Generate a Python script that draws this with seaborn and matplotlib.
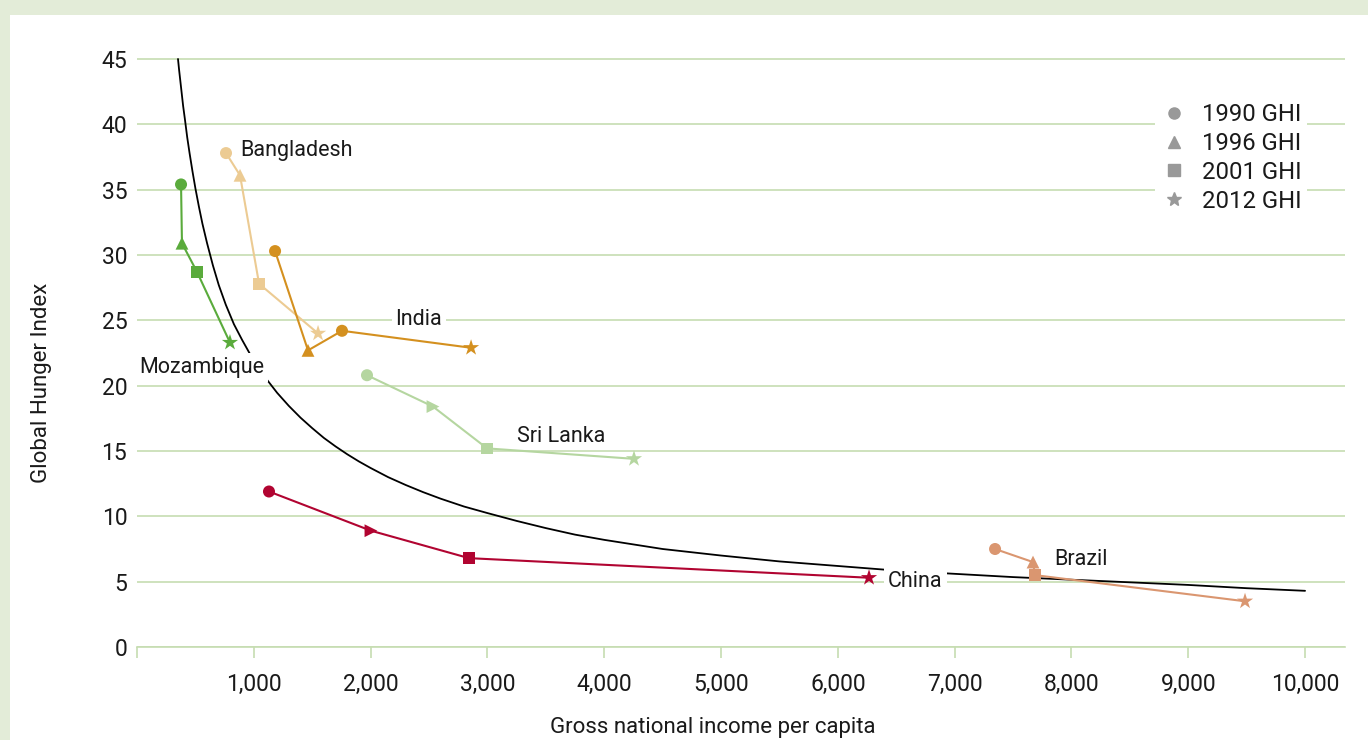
import pandas as pd
import numpy as np
import matplotlib
matplotlib.use("Agg")
import matplotlib.pyplot as plt
from matplotlib.lines import Line2D
from matplotlib.patches import Rectangle
import seaborn as sns

# GHI values (GNI per capita, GHI score) for 1990, 1996, 2001, 2012
years = [1990, 1996, 2001, 2012]
countries = ["Mozambique", "Bangladesh", "India", "Sri Lanka", "China", "Brazil"]
gni = {
    "Mozambique": [377, 385, 514, 796],
    "Bangladesh": [762, 882, 1045, 1550],
    "India": [1182, 1464, 1755, 2860],
    "Sri Lanka": [1969, 2534, 2997, 4255],
    "China": [1130, 2003, 2842, 6267],
    "Brazil": [7346, 7671, 7688, 9486],
}
ghi = {
    "Mozambique": [35.4, 30.9, 28.7, 23.3],
    "Bangladesh": [37.8, 36.1, 27.8, 24.0],
    "India": [30.3, 22.7, 24.2, 22.9],
    "Sri Lanka": [20.8, 18.4, 15.2, 14.4],
    "China": [11.9, 8.9, 6.8, 5.3],
    "Brazil": [7.5, 6.5, 5.5, 3.5],
}
colors = {
    "Mozambique": "#5aab3c",
    "Bangladesh": "#eccb93",
    "India": "#d4901f",
    "Sri Lanka": "#b5d6a0",
    "China": "#b10431",
    "Brazil": "#da9670",
}
# trend curve points
curve_x = [351, 360, 370, 380, 395, 410, 430, 450, 475, 500, 530, 560, 600, 650, 700,
           760, 830, 900, 1000, 1100, 1200, 1300, 1400, 1500, 1600, 1700, 1800, 1900,
           2000, 2150, 2300, 2450, 2600, 2800, 3000, 3250, 3500, 3750, 4000, 4500, 5000,
           5500, 6000, 6500, 7000, 7500, 8000, 8500, 9000, 9500, 10000]
curve_y = [45.0, 44.2, 43.4, 42.6, 41.4, 40.4, 39.0, 37.8, 36.4, 35.1, 33.7, 32.4, 30.9,
           29.2, 27.7, 26.2, 24.7, 23.5, 21.9, 20.6, 19.45, 18.45, 17.55, 16.75, 16.0, 15.35,
           14.75, 14.2, 13.7, 13.0, 12.4, 11.85, 11.35, 10.75, 10.25, 9.65, 9.1, 8.6, 8.2,
           7.5, 7.0, 6.55, 6.2, 5.85, 5.6, 5.35, 5.15, 4.95, 4.75, 4.5, 4.3]

xticks = list(range(0, 10001, 1000))
xtick_labels = [""] + [f"{v:,}" for v in xticks[1:]]
yticks = list(range(0, 46, 5))

rows = []
for c in countries:
    for yr, gx, gy in zip(years, gni[c], ghi[c]):
        rows.append({"country": c, "year": yr, "gni": gx, "ghi": gy})
df = pd.DataFrame(rows)

sns.set_theme(style="white")
plt.rcParams["font.family"] = ["Roboto", "DejaVu Sans"]

grid_col = "#c6ddb1"
text_col = "#1a1a1a"
fig = plt.figure(figsize=(13.68, 7.40), dpi=100, facecolor="#e3ecd8")
fig.add_artist(Rectangle((10 / 1368, 0), 1, 1 - 15 / 740, transform=fig.transFigure,
                         facecolor="white", edgecolor="none", zorder=-10))
ytop = 45.5
ppu = 588 / 45
ax_top_px = 647 - ytop * ppu
ax_h_px = 647 - ax_top_px
ax = fig.add_axes([137 / 1368, 1 - 647 / 740, (1345 - 137) / 1368, ax_h_px / 740])
ax.set_facecolor("none")

sns.lineplot(x=curve_x, y=curve_y, ax=ax, color="black", lw=1.3, zorder=3)

# marker per point (the chart reuses a circle for India's third point)
markers = {1990: "o", 1996: "^", 2001: "s", 2012: "*"}
marker_override = {("China", 1996): ">", ("Sri Lanka", 1996): ">", ("India", 2001): "o"}
sizes = {"o": 75, "^": 85, ">": 85, "s": 70, "*": 150}
for c in countries:
    d = df[df.country == c]
    sns.lineplot(data=d, x="gni", y="ghi", sort=False, ax=ax, color=colors[c], lw=1.5, zorder=4)
    for _, r in d.iterrows():
        m = marker_override.get((c, r.year), markers[r.year])
        sns.scatterplot(x=[r.gni], y=[r.ghi], marker=m, s=sizes[m], ax=ax,
                        color=colors[c], edgecolor="none", legend=False, zorder=5)

label_box = dict(facecolor="white", edgecolor="none", pad=3)
fs = 15.5
ax.text(882, 38.0, "Bangladesh", fontsize=fs, va="center", ha="left", color=text_col, zorder=6)
ax.text(2414, 25.1, "India", fontsize=fs, va="center", ha="center", color=text_col,
        bbox=label_box, zorder=6)
ax.text(15, 21.4, "Mozambique", fontsize=fs, va="center", ha="left", color=text_col,
        bbox=label_box, zorder=6)
ax.text(3253, 16.1, "Sri Lanka", fontsize=fs, va="center", ha="left", color=text_col, zorder=6)
ax.text(6430, 5.0, "China", fontsize=fs, va="center", ha="left", color=text_col,
        bbox=label_box, zorder=6)
ax.text(7851, 6.66, "Brazil", fontsize=fs, va="center", ha="left", color=text_col, zorder=6)

ax.set_xlim(0, 10342)
ax.set_ylim(0, ytop)
ax.set_yticks(yticks)
ax.set_xticks(xticks)
ax.set_xticklabels(xtick_labels)
ax.grid(axis="y", color=grid_col, lw=1.2)
ax.set_axisbelow(True)
for s in ["top", "right", "left"]:
    ax.spines[s].set_visible(False)
ax.spines["bottom"].set_color(grid_col)
ax.spines["bottom"].set_linewidth(1.2)
ax.tick_params(axis="x", bottom=True, direction="out", length=8, width=1.2, color=grid_col,
               pad=11, labelsize=16.5, labelcolor=text_col)
ax.tick_params(axis="y", left=False, length=0, pad=7, labelsize=16.5, labelcolor=text_col)
ax.set_xlabel("Gross national income per capita", fontsize=16, color=text_col)
ax.set_ylabel("Global Hunger Index", fontsize=16, color=text_col)
ax.xaxis.set_label_coords((713 - 137) / 1208, -(727 - 647) / ax_h_px)
ax.yaxis.set_label_coords(-(137 - 42) / 1208, (647 - 383) / ax_h_px)
ax.xaxis.label.set_va("center")
ax.yaxis.label.set_va("center")

handles = [Line2D([], [], ls="none", marker=markers[y], color="#999999",
                  markersize=8 if y != 2012 else 10, label=f"{y} GHI") for y in years]
leg = ax.legend(handles=handles, loc="upper left",
                bbox_to_anchor=((1143 - 137) / 1208, 1 - (85 - ax_top_px) / ax_h_px),
                frameon=True, fontsize=17.2, handletextpad=0.6, labelspacing=0.25, borderpad=0.25,
                handlelength=1.1)
for t in leg.get_texts():
    t.set_color(text_col)
leg.get_frame().set_facecolor("white")
leg.get_frame().set_edgecolor("none")
leg.get_frame().set_alpha(1)
leg.set_zorder(6)

fig.savefig("out.png", dpi=100, facecolor=fig.get_facecolor())
plt.close(fig)
